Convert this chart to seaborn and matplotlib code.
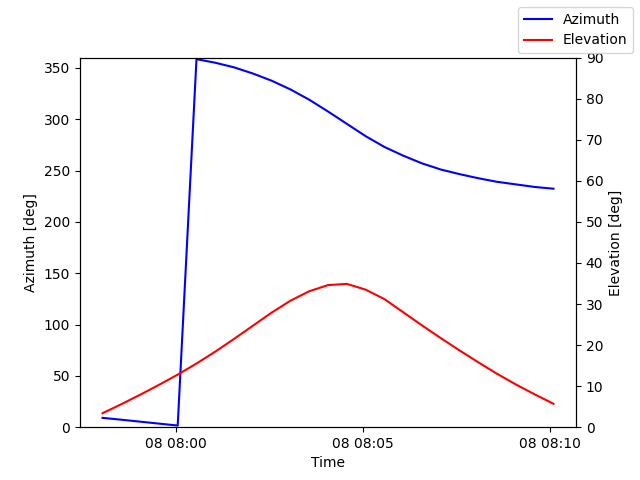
import matplotlib
matplotlib.use("Agg")
import matplotlib.pyplot as plt
import seaborn as sns
import pandas as pd
import numpy as np

start_time = "2024-01-08 07:58:01.5"
end_time = "2024-01-08 08:10:06"
n_points = 25

azimuth = [9.1, 7.3, 5.4, 3.5, 1.6, 358.5, 355.0, 350.5, 344.5, 337.5, 329.0, 319.0,
           307.5, 295.5, 283.5, 273.0, 264.5, 257.0, 251.0, 246.5, 242.5, 239.0,
           236.5, 234.0, 232.3]
elevation = [3.4, 5.6, 7.9, 10.3, 12.8, 15.5, 18.4, 21.5, 24.7, 27.9, 30.8, 33.1,
             34.6, 34.9, 33.5, 31.2, 28.0, 24.8, 21.7, 18.7, 15.8, 13.0, 10.4, 8.0, 5.7]

times = pd.date_range(start_time, end_time, periods=n_points)
df = pd.DataFrame({"Time": times, "Azimuth": azimuth, "Elevation": elevation})

fig, ax = plt.subplots(figsize=(6.4, 4.8), dpi=100)
ax2 = ax.twinx()
sns.lineplot(data=df, x="Time", y="Azimuth", ax=ax, color="blue", label="Azimuth", legend=False)
sns.lineplot(data=df, x="Time", y="Elevation", ax=ax2, color="red", label="Elevation", legend=False)
ax.set_ylim(0, 360)
ax2.set_ylim(0, 90)
ax.set_xlabel("Time")
ax.set_ylabel("Azimuth [deg]")
ax2.set_ylabel("Elevation [deg]")
fig.legend(loc="upper right")
fig.savefig("out.png", dpi=100)
